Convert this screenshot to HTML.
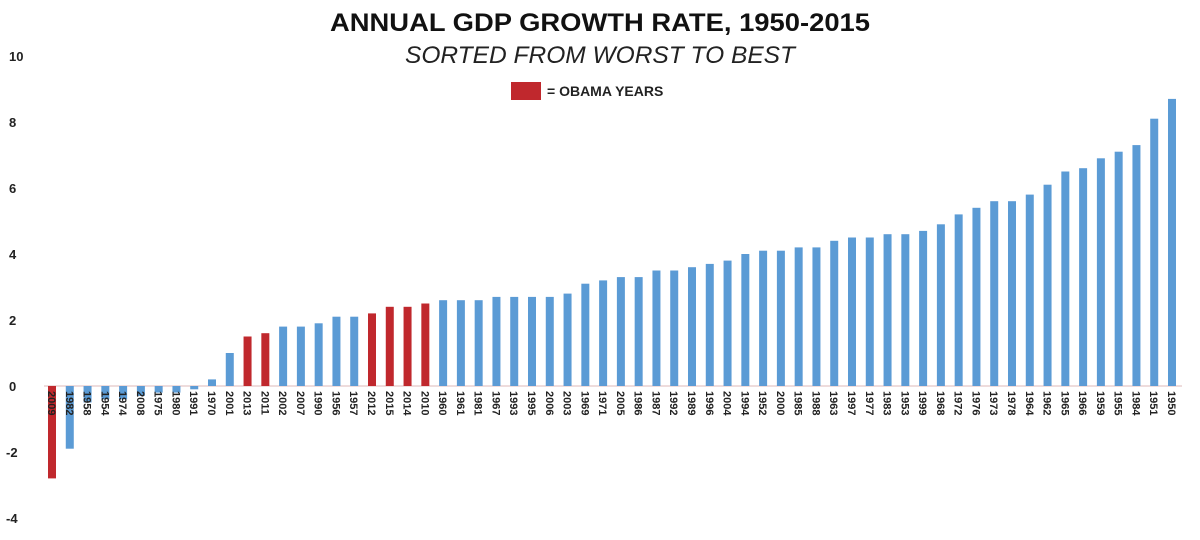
<!DOCTYPE html>
<html><head><meta charset="utf-8"><style>
body{margin:0;background:#fff;width:1200px;height:535px;overflow:hidden;font-family:"Liberation Sans",sans-serif}
</style></head><body>
<svg id="chart" width="1200" height="535" xmlns="http://www.w3.org/2000/svg">
<text x="600" y="31" text-anchor="middle" font-size="25" font-weight="bold" fill="#111" textLength="540" lengthAdjust="spacingAndGlyphs">ANNUAL GDP GROWTH RATE, 1950-2015</text>
<text x="600" y="63" text-anchor="middle" font-size="24" font-style="italic" fill="#222" textLength="390" lengthAdjust="spacingAndGlyphs">SORTED FROM WORST TO BEST</text>
<rect x="511" y="82" width="30" height="18" fill="#c0282d"/>
<text x="547" y="96" font-size="14" font-weight="bold" fill="#222">= OBAMA YEARS</text>
<g id="axis"></g><g id="bars"></g><g id="labels"></g>
</svg>
<script>
const years=[2009,1982,1958,1954,1974,2008,1975,1980,1991,1970,2001,2013,2011,2002,2007,1990,1956,1957,2012,2015,2014,2010,1960,1961,1981,1967,1993,1995,2006,2003,1969,1971,2005,1986,1987,1992,1989,1996,2004,1994,1952,2000,1985,1988,1963,1997,1977,1983,1953,1999,1968,1972,1976,1973,1978,1964,1962,1965,1966,1959,1955,1984,1951,1950];
const values=[-2.8,-1.9,-0.5,-0.4,-0.4,-0.3,-0.2,-0.2,-0.1,0.2,1.0,1.5,1.6,1.8,1.8,1.9,2.1,2.1,2.2,2.4,2.4,2.5,2.6,2.6,2.6,2.7,2.7,2.7,2.7,2.8,3.1,3.2,3.3,3.3,3.5,3.5,3.6,3.7,3.8,4.0,4.1,4.1,4.2,4.2,4.4,4.5,4.5,4.6,4.6,4.7,4.9,5.2,5.4,5.6,5.6,5.8,6.1,6.5,6.6,6.9,7.1,7.3,8.1,8.7];
const obamaYears=[2009,2010,2011,2012,2013,2014,2015];
const yTicks=[10,8,6,4,2,0,-2,-4];
const NS="http://www.w3.org/2000/svg";
const y=v=>386-v*33;
const x=i=>52+i*(1172-52)/(years.length-1);
const ax=document.getElementById('axis'),bg=document.getElementById('bars'),lg=document.getElementById('labels');
const zl=document.createElementNS(NS,'line');


zl.setAttribute('x1',44);zl.setAttribute('x2',1182);zl.setAttribute('y1',y(0));zl.setAttribute('y2',y(0));zl.setAttribute('stroke','#e8d0d0');zl.setAttribute('stroke-width',1.5);
ax.appendChild(zl);
yTicks.forEach(t=>{const e=document.createElementNS(NS,'text');


e.setAttribute('x',t<0?6:9);e.setAttribute('y',y(t)+5);e.setAttribute('font-size',13);e.setAttribute('font-weight','bold');e.setAttribute('fill','#222');e.textContent=t;ax.appendChild(e);});
years.forEach((yr,i)=>{const v=values[i];const r=document.createElementNS(NS,'rect');


r.setAttribute('x',x(i)-4);r.setAttribute('width',8);r.setAttribute('y',Math.min(y(v),y(0)));r.setAttribute('height',Math.abs(y(v)-y(0)));
r.setAttribute('fill',obamaYears.includes(yr)?'#c0282d':'#5b9bd5');bg.appendChild(r);
const t=document.createElementNS(NS,'text');


t.setAttribute('transform','translate('+(x(i)-4)+',391) rotate(90)');t.setAttribute('font-size',11);t.setAttribute('font-weight','bold');t.setAttribute('fill','#222');t.textContent=yr;lg.appendChild(t);});
</script>
</body></html>
